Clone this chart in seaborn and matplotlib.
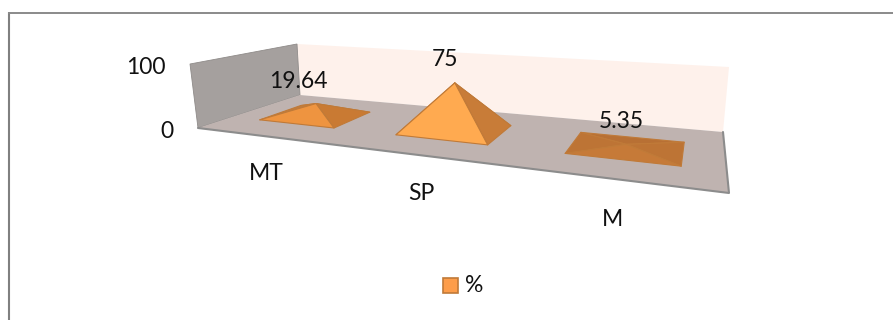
import numpy as np
import pandas as pd
import matplotlib
matplotlib.use("Agg")
import matplotlib.pyplot as plt
from matplotlib.patches import Polygon, Rectangle
import seaborn as sns

categories = ["MT", "SP", "M"]
percent = [19.64, 75, 5.35]
value_ticks = [0, 100]
series_name = "%"

sns.set_theme(style="white")
plt.rcParams["font.family"] = ["Lato", "DejaVu Sans"]

W, H = 893, 320
fig = plt.figure(figsize=(W / 100, H / 100), dpi=100)
ax = fig.add_axes([0, 0, 1, 1])

# Oblique chart box: floor corners in canvas units
FL, FR = np.array([198.0, 128.0]), np.array([729.0, 193.0])
BL, BR = np.array([300.0, 95.0]), np.array([723.0, 132.0])
PX_PER_UNIT = 0.63
FONT = 16.5
INK = "#111111"


def homography(src, dst):
    rows, rhs = [], []
    for (x, y), (u, v) in zip(src, dst):
        rows.append([x, y, 1, 0, 0, 0, -u * x, -u * y])
        rows.append([0, 0, 0, x, y, 1, -v * x, -v * y])
        rhs += [u, v]
    return np.append(np.linalg.solve(np.array(rows, float), np.array(rhs, float)), 1).reshape(3, 3)


HOM = homography([(0, 0), (3, 0), (3, 1), (0, 1)], [FL, FR, BR, BL])


def project(cat, depth, value=0.0):
    p = HOM @ np.array([cat, depth, 1.0])
    xy = p[:2] / p[2]
    return xy - np.array([0.0, value * PX_PER_UNIT])


def quad(points, **kw):
    ax.add_patch(Polygon(points, closed=True, **kw))


# Walls and floor
tl_front = np.array([190.0, 64.0])
tl_back = np.array([297.0, 44.0])
tr_back = np.array([729.0, 67.0])
quad([tl_back, tr_back, BR, BL], facecolor="#fef1eb", edgecolor="none", zorder=1)
quad([tl_front, tl_back, BL, FL], facecolor="#a5a09e", edgecolor="#8f8b89", lw=0.6, zorder=2)
quad([FL, BL, BR, FR], facecolor="#bfb3b0", edgecolor="none", zorder=2)

# Front rim of the floor
rim = pd.DataFrame(np.array([FL, FR, BR]), columns=["x", "y"])
sns.lineplot(data=rim, x="x", y="y", sort=False, estimator=None, color="#8c8c8c", lw=1.5, ax=ax, zorder=3)
ax.set_xlim(0, W)
ax.set_ylim(H, 0)
ax.axis("off")

# One pyramid per category, apex height taken from its value
half_u, half_v = 0.285, 0.21
face_colors = [
    {"front": "#ee9440", "right": "#c97a33", "left": "#c07c3e", "back": "#b8763a"},
    {"front": "#ffaa50", "right": "#c87c38", "left": "#ffaa50", "back": "#b8763a"},
    {"front": "#c67a38", "right": "#bd7435", "left": "#bd7435", "back": "#b87034"},
]
label_offsets = [(-18, -22), (-10, -23), (-5, -23)]
tick_label_xy = [(266, 174), (421, 194), (613, 220)]
for i, (label, value) in enumerate(zip(categories, percent)):
    cx, cy = i + 0.512, 0.5
    a = project(cx - half_u, cy - half_v)
    b = project(cx + half_u, cy - half_v)
    c = project(cx + half_u, cy + half_v)
    d = project(cx - half_u, cy + half_v)
    apex = project(cx, cy, value)
    colors = face_colors[i]
    for pts, key in [((d, c, apex), "back"), ((a, d, apex), "left"),
                     ((b, c, apex), "right"), ((a, b, apex), "front")]:
        quad(pts, facecolor=colors[key], edgecolor="#c07a38", lw=0.8, joinstyle="round", zorder=4)
    ax.text(apex[0] + label_offsets[i][0], apex[1] + label_offsets[i][1], f"{value:g}",
            ha="center", va="center", fontsize=FONT, color=INK, zorder=6)
    ax.text(*tick_label_xy[i], label, ha="center", va="center", fontsize=FONT, color=INK)

# Value axis labels beside the left wall
ax.text(167, 131, str(value_ticks[0]), ha="center", va="center", fontsize=FONT, color=INK)
ax.text(146, 67, str(value_ticks[1]), ha="center", va="center", fontsize=FONT, color=INK)

# Legend key and the frame's top and left edges
ax.add_patch(Rectangle((443, 278), 15, 15, facecolor="#fd9d4a", edgecolor="#c07a38", lw=1.2))
ax.text(465, 286, series_name, ha="left", va="center", fontsize=FONT, color=INK)
ax.plot([9, 9], [320, 12], color="#808080", lw=1.5, solid_capstyle="butt")
ax.plot([8, 893], [13, 13], color="#8a8a8a", lw=1.4, solid_capstyle="butt")

fig.savefig("out.png", dpi=100)
